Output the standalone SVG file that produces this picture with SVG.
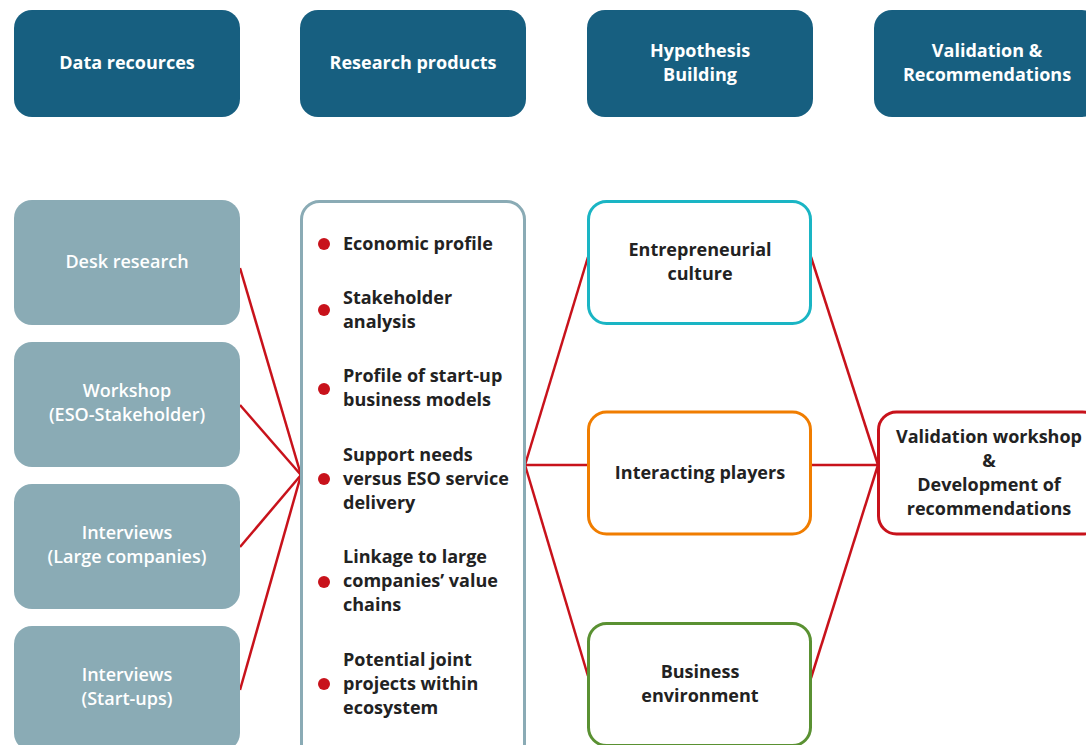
<svg xmlns="http://www.w3.org/2000/svg" width="1086" height="745" viewBox="0 0 1086 745">
<style>
.hdr{fill:#175f80}
.src{fill:#8aabb5}
.t{font-family:"Open Sans","Noto Sans",sans-serif;font-size:18px;text-anchor:middle}
.tw{fill:#ffffff;font-weight:700}
.ts{fill:#ffffff;font-weight:600}
.td{fill:#222222;font-weight:700}
.tl{font-family:"Open Sans","Noto Sans",sans-serif;font-size:18px;fill:#222222;font-weight:700}
.bul{fill:#c8121b}
.con line{stroke:#c8121b;stroke-width:2.5;fill:none}
.box{fill:#ffffff;stroke-width:3}
</style>
<rect width="1086" height="745" fill="#ffffff"/>
<g id="connectors" class="con">
<line x1="240" y1="268" x2="301" y2="475"/>
<line x1="240" y1="405" x2="301" y2="475"/>
<line x1="240" y1="547" x2="301" y2="475"/>
<line x1="240" y1="690" x2="301" y2="475"/>
<line x1="525" y1="465" x2="588" y2="257"/>
<line x1="525" y1="465" x2="588" y2="465"/>
<line x1="525" y1="465" x2="588" y2="676"/>
<line x1="811" y1="257" x2="878" y2="465"/>
<line x1="811" y1="465" x2="878" y2="465"/>
<line x1="811" y1="678" x2="878" y2="465"/>
</g>
<g id="h-data"><rect class="hdr" x="14" y="10" width="226" height="107" rx="18"/><text class="t tw" x="127" y="69">Data recources</text></g>
<g id="h-research"><rect class="hdr" x="300" y="10" width="226" height="107" rx="18"/><text class="t tw" x="413" y="69">Research products</text></g>
<g id="h-hypothesis"><rect class="hdr" x="587" y="10" width="226" height="107" rx="18"/><text class="t tw" x="700" y="57">Hypothesis</text><text class="t tw" x="700" y="81">Building</text></g>
<g id="h-validation"><rect class="hdr" x="874" y="10" width="226" height="107" rx="18"/><text class="t tw" x="987" y="57">Validation &amp;</text><text class="t tw" x="987" y="81">Recommendations</text></g>
<g id="s-desk"><rect class="src" x="14" y="200" width="226" height="125" rx="18"/><text class="t ts" x="127" y="268">Desk research</text></g>
<g id="s-workshop"><rect class="src" x="14" y="342" width="226" height="125" rx="18"/><text class="t ts" x="127" y="397">Workshop</text><text class="t ts" x="127" y="421">(ESO-Stakeholder)</text></g>
<g id="s-large"><rect class="src" x="14" y="484" width="226" height="125" rx="18"/><text class="t ts" x="127" y="539">Interviews</text><text class="t ts" x="127" y="563">(Large companies)</text></g>
<g id="s-startups"><rect class="src" x="14" y="626" width="226" height="125" rx="18"/><text class="t ts" x="127" y="681">Interviews</text><text class="t ts" x="127" y="705">(Start-ups)</text></g>
<g id="products">
<rect class="box" x="301.5" y="201.5" width="223" height="560" rx="18" stroke="#8aabb5"/>
<circle class="bul" cx="324" cy="244" r="6"/><text class="tl" x="343" y="250">Economic profile</text>
<circle class="bul" cx="324" cy="310" r="6"/><text class="tl" x="343" y="304">Stakeholder</text><text class="tl" x="343" y="328">analysis</text>
<circle class="bul" cx="324" cy="389" r="6"/><text class="tl" x="343" y="382">Profile of start-up</text><text class="tl" x="343" y="406">business models</text>
<circle class="bul" cx="324" cy="479" r="6"/><text class="tl" x="343" y="461">Support needs</text><text class="tl" x="343" y="485">versus ESO service</text><text class="tl" x="343" y="509">delivery</text>
<circle class="bul" cx="324" cy="582" r="6"/><text class="tl" x="343" y="563">Linkage to large</text><text class="tl" x="343" y="587">companies’ value</text><text class="tl" x="343" y="611">chains</text>
<circle class="bul" cx="324" cy="684" r="6"/><text class="tl" x="343" y="666">Potential joint</text><text class="tl" x="343" y="690">projects within</text><text class="tl" x="343" y="714">ecosystem</text>
</g>
<g id="n-culture"><rect class="box" x="588.5" y="201.5" width="222" height="122" rx="18" stroke="#1ab5c4"/><text class="t td" x="700" y="256">Entrepreneurial</text><text class="t td" x="700" y="280">culture</text></g>
<g id="n-players"><rect class="box" x="588.5" y="412" width="222" height="122" rx="18" stroke="#f07d00"/><text class="t td" x="700" y="479">Interacting players</text></g>
<g id="n-business"><rect class="box" x="588.5" y="623.5" width="222" height="122" rx="18" stroke="#5a9132"/><text class="t td" x="700" y="678">Business</text><text class="t td" x="700" y="702">environment</text></g>
<g id="n-validation"><rect class="box" x="878.5" y="412" width="222" height="122" rx="18" stroke="#c8121b"/><text class="t td" x="989" y="443">Validation workshop</text><text class="t td" x="989" y="467">&amp;</text><text class="t td" x="989" y="491">Development of</text><text class="t td" x="989" y="515">recommendations</text></g>
</svg>
